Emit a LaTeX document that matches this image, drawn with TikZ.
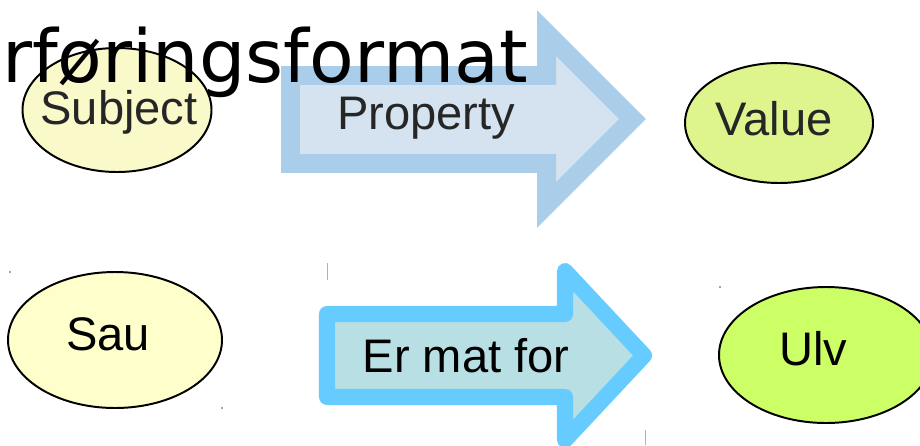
\documentclass[tikz,border=0pt]{standalone}
\usepackage{fontspec}
\setmainfont{Liberation Sans}
\newfontfamily\titlefont{DejaVu Sans}
\usetikzlibrary{shapes.geometric}
\definecolor{subjyellow}{RGB}{250,249,202}
\definecolor{valgreen}{RGB}{221,245,140}
\definecolor{sauyellow}{RGB}{255,255,204}
\definecolor{ulvgreen}{RGB}{204,255,102}
\definecolor{propedge}{RGB}{170,206,234}
\definecolor{propfill}{RGB}{212,227,239}
\definecolor{matedge}{RGB}{102,204,255}
\definecolor{matfill}{RGB}{184,224,228}

\begin{document}
\begin{tikzpicture}[x=0.25mm,y=-0.25mm,
  blob/.style={ellipse,draw,line width=1.4pt,inner sep=0pt},
  toplbl/.style={anchor=base,font=\fontsize{33.5}{33.5}\selectfont,text=black!85},
  lowlbl/.style={anchor=base,font=\fontsize{33.5}{33.5}\selectfont}]
  \useasboundingbox (0,0) rectangle (920,445);
  \clip (0,0) rectangle (920,445);

  \draw[line width=13.5pt,draw=propedge,fill=propfill,miter limit=10]
    (290.5,75.5)--++(256,0)--++(0,-42.5)--(632.5,119)--(546.5,205)--++(0,-41.5)--++(-256,0)--cycle;
  \node[blob,fill=subjyellow,minimum width=47.25mm,minimum height=31mm] (subject) at (117,110) {};
  \node[toplbl] (subjecttxt) at (119,124) {Subject};
  \node[toplbl] (propertytxt) at (426,129) {Property};
  \node[blob,fill=valgreen,minimum width=47mm,minimum height=30mm] (value) at (779,123) {};
  \node[toplbl] (valuetxt) at (774,135) {Value};

  \node[blob,fill=sauyellow,minimum width=53.5mm,minimum height=34mm] (sau) at (115,340) {};
  \node[lowlbl] (sautxt) at (108,350) {Sau};
  \draw[line width=11.4pt,line join=round,draw=matedge,fill=matfill]
    (327,314)--++(238,0)--++(0,-43)--(644,355.5)--(565,440)--++(0,-43)--++(-238,0)--cycle;
  \node[lowlbl] (matertxt) at (466,372) {Er mat for};
  \node[blob,fill=ulvgreen,minimum width=53.5mm,minimum height=34mm] (ulv) at (826,355) {};
  \node[lowlbl] (ulvtxt) at (813,365) {Ulv};

  \node[anchor=base east,inner sep=0pt,font=\titlefont\fontsize{52}{52}\selectfont] (title) at (528,82) {rføringsformat};

  \path[fill=black!70] (10,272) circle (0.6pt) (222,408) circle (0.6pt) (720,287) circle (0.6pt);
  \draw[matedge,line width=0.7pt] (327,263)--(327,280) (645,430)--(645,445);
\end{tikzpicture}
\end{document}
